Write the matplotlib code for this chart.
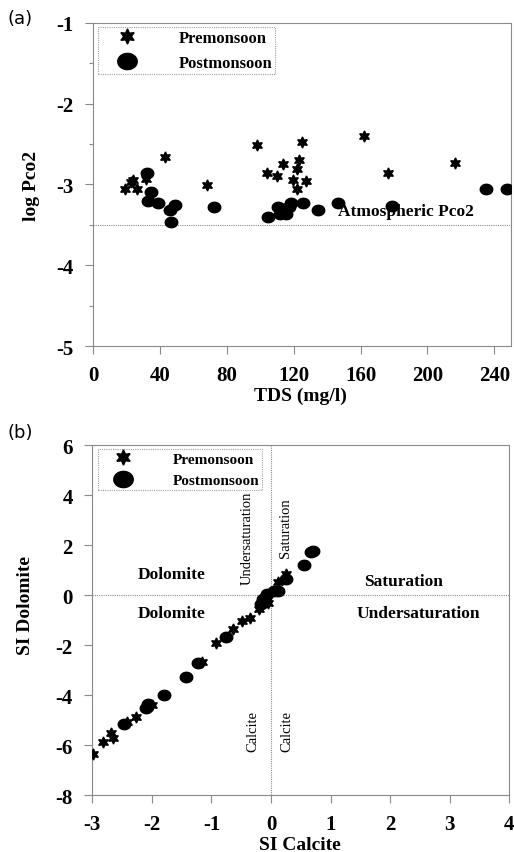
import numpy as np
import matplotlib
matplotlib.use("Agg")
import matplotlib.pyplot as plt
from matplotlib.path import Path
from matplotlib.lines import Line2D

# ---------------- data: panel (a) ----------------
pre_tds = [19.0, 22.5, 23.9, 26.3, 31.5, 42.9, 67.9, 97.8, 104.1, 109.9, 113.7,
           119.7, 121.7, 121.7, 123.3, 124.7, 127.1, 162.0, 176.2, 216.5]
pre_pco2 = [-3.06, -2.97, -2.95, -3.06, -2.93, -2.66, -3.01, -2.51, -2.86, -2.89, -2.75,
            -2.94, -2.81, -3.05, -2.70, -2.47, -2.96, -2.40, -2.86, -2.73]
post_tds = [32.0, 34.5, 32.9, 38.5, 48.9, 45.9, 46.3, 72.2, 104.7, 110.5, 111.5,
            113.5, 115.5, 117.0, 118.3, 125.7, 134.3, 146.6, 178.6, 235.0, 247.4]
post_pco2 = [-2.86, -3.09, -3.21, -3.23, -3.25, -3.32, -3.47, -3.28, -3.40, -3.28, -3.36,
             -3.30, -3.37, -3.28, -3.23, -3.23, -3.31, -3.23, -3.27, -3.06, -3.06]
atm_pco2 = -3.5
tds_ticks = [0, 40, 80, 120, 160, 200, 240]
pco2_ticks = [-5, -4, -3, -2, -1]

# ---------------- data: panel (b) ----------------
pre_sic = [-2.99, -2.82, -2.69, -2.65, -2.41, -2.26, -2.00, -1.16, -0.93, -0.64,
           -0.49, -0.36, -0.20, -0.05, 0.00, 0.11, 0.25]
pre_sid = [-6.36, -5.87, -5.52, -5.72, -5.07, -4.89, -4.40, -2.69, -1.93, -1.36,
           -1.05, -0.92, -0.56, -0.30, 0.10, 0.51, 0.84]
post_sic = [-2.46, -2.10, -2.06, -1.80, -1.43, -1.22, -0.75, -0.17, -0.13, -0.10,
            -0.06, 0.05, 0.12, 0.25, 0.55, 0.68, 0.70]
post_sid = [-5.16, -4.53, -4.36, -4.00, -3.29, -2.72, -1.67, -0.36, -0.16, -0.25,
            0.04, 0.17, 0.17, 0.64, 1.20, 1.71, 1.78]
sic_ticks = [-3, -2, -1, 0, 1, 2, 3, 4]
sid_ticks = [-8, -6, -4, -2, 0, 2, 4, 6]

SERIF = "Liberation Serif"
SPINE = "#8a8a8a"
plt.rcParams["font.family"] = [SERIF, "DejaVu Serif"]
plt.rcParams["font.weight"] = "bold"
plt.rcParams["axes.unicode_minus"] = False

th = np.linspace(0, 2 * np.pi, 64)
ellipse = Path(np.column_stack([1.2 * np.cos(th), np.sin(th)]), closed=True)
star6 = (6, 1, 0)

fig = plt.figure(figsize=(5.14, 8.53), dpi=100)
ax1 = fig.add_axes([0.1815, 0.5932, 0.8127, 0.3787])
ax2 = fig.add_axes([0.1796, 0.0668, 0.8110, 0.4103])


def style(ax):
    for s in ax.spines.values():
        s.set_color(SPINE)
        s.set_linestyle((0, (1, 1)))
        s.set_linewidth(0.8)
    ax.tick_params(which="both", direction="out", color=SPINE, width=0.8,
                   labelsize=15)
    ax.tick_params(which="major", length=6, pad=8)
    ax.tick_params(which="minor", length=3)


def add_legend(ax, anchor, fs, hl, tp):
    h = [Line2D([], [], ls="none", marker=star6, color="black", ms=11),
         Line2D([], [], ls="none", marker=ellipse, color="black", ms=14)]
    leg = ax.legend(h, ["Premonsoon", "Postmonsoon"], loc="upper left",
                    bbox_to_anchor=anchor, frameon=True, fancybox=False,
                    prop={"family": SERIF, "weight": "bold", "size": fs},
                    handlelength=hl, handletextpad=tp, borderpad=0.2,
                    labelspacing=0.5, borderaxespad=0)
    fr = leg.get_frame()
    fr.set_edgecolor(SPINE)
    fr.set_linestyle((0, (1, 1)))
    fr.set_linewidth(0.8)
    leg.set_zorder(5)


# ---------------- panel (a) ----------------
ax1.axhline(atm_pco2, color=SPINE, lw=0.8, ls=(0, (1, 1)), zorder=1)
ax1.plot(pre_tds, pre_pco2, ls="none", marker=star6, ms=8, color="black", zorder=3)
ax1.plot(post_tds, post_pco2, ls="none", marker=ellipse, ms=9, color="black", zorder=3)
ax1.text(146.5, -3.33, "Atmospheric Pco2", weight="bold", fontsize=12.5,
         ha="left", va="center", zorder=4)
ax1.set_xlim(0, 250)
ax1.set_ylim(-5, -1)
ax1.set_xticks(tds_ticks)
ax1.set_yticks(pco2_ticks)
ax1.set_yticks(np.arange(-4.5, -1, 1.0), minor=True)
style(ax1)
ax1.set_xlabel("TDS (mg/l)", weight="bold", fontsize=14)
ax1.xaxis.set_label_coords(0.495, -0.125)
ax1.set_ylabel("log Pco2", weight="bold", fontsize=14)
ax1.yaxis.set_label_coords(-0.128, 0.5)
add_legend(ax1, (0.012, 0.988), 12, 3.1, 1.5)
fig.text(0.015, 0.978, "(a)", fontsize=13, family="DejaVu Sans", weight="normal",
         va="center")

# ---------------- panel (b) ----------------
ax2.axhline(0, color=SPINE, lw=0.8, ls=(0, (1, 1)), zorder=1)
ax2.axvline(0, color=SPINE, lw=0.8, ls=(0, (1, 1)), zorder=1)
ax2.plot(pre_sic, pre_sid, ls="none", marker=star6, ms=8, color="black", zorder=3)
ax2.plot(post_sic, post_sid, ls="none", marker=ellipse, ms=9, color="black", zorder=3)
ax2.set_xlim(-3, 4)
ax2.set_ylim(-8, 6)
ax2.set_xticks(sic_ticks)
ax2.set_yticks(sid_ticks)
style(ax2)
ax2.set_xlabel("SI Calcite", weight="bold", fontsize=14)
ax2.xaxis.set_label_coords(0.498, -0.118)
ax2.set_ylabel("SI Dolomite", weight="bold", fontsize=14)
ax2.yaxis.set_label_coords(-0.14, 0.543)
add_legend(ax2, (0.0144, 0.9886), 11, 2.77, 1.9)
fig.text(0.015, 0.492, "(b)", fontsize=13, family="DejaVu Sans", weight="normal",
         va="center")

tb = dict(weight="bold", fontsize=12.5)
tr = dict(weight="normal", fontsize=10.5)
ax2.text(-1.66, 0.85, "Dolomite", ha="center", va="center", **tb)
ax2.text(-1.66, -0.70, "Dolomite", ha="center", va="center", **tb)
ax2.text(1.57, 0.55, "Saturation", ha="left", va="center", **tb)
ax2.text(1.43, -0.70, "Undersaturation", ha="left", va="center", **tb)
ax2.text(-0.40, 2.32, "Undersaturation", rotation=90, ha="center", va="center", **tr)
ax2.text(0.25, 2.70, "Saturation", rotation=90, ha="center", va="center", **tr)
ax2.text(-0.31, -5.4, "Calcite", rotation=90, ha="center", va="center", **tr)
ax2.text(0.27, -5.4, "Calcite", rotation=90, ha="center", va="center", **tr)

fig.savefig("out.png", dpi=100)
